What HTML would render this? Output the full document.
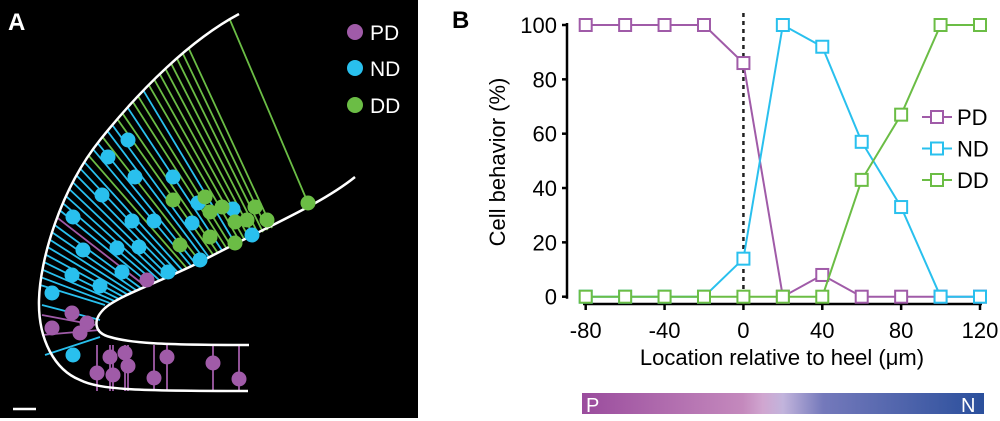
<!DOCTYPE html>
<html><head><meta charset="utf-8"><style>
html,body{margin:0;padding:0;background:#fff;}
svg{display:block;font-family:"Liberation Sans",Arial,sans-serif;}
</style></head><body>
<svg id="fig" width="1000" height="421" viewBox="0 0 1000 421" xmlns="http://www.w3.org/2000/svg">
<defs>
<linearGradient id="pn" x1="0" x2="1" y1="0" y2="0">
<stop offset="0" stop-color="#9a4c9d"/><stop offset="0.4" stop-color="#c489bd"/><stop offset="0.45" stop-color="#d0a6d0"/>
<stop offset="0.5" stop-color="#c2b4dc"/><stop offset="0.6" stop-color="#7479bb"/><stop offset="1" stop-color="#2a4f9c"/>
</linearGradient>
</defs>
<g id="panelA">
<rect x="0" y="0" width="418" height="418" fill="#000"/>
<text x="8" y="30" font-size="24" font-weight="bold" fill="#fff">A</text>
<g id="aLines"></g>
<path id="outerPath" d="M239,14 C190,40 140,90 100,140 C60,190 40,260 39,300 C38,340 55,370 80,380 C100,390 140,391 248,391" fill="none" stroke="#fff" stroke-width="2.5"/>
<path d="M355,177 C320,205 270,225 200,262 C160,282 120,295 105,308 C92,320 94,333 110,337 C130,343 160,345 249,345" fill="none" stroke="#fff" stroke-width="2.5"/>
<g id="aCells"></g>
<circle cx="355" cy="32" r="8" fill="#a05ba8"/>
<text x="370" y="40" font-size="21" fill="#fff">PD</text>
<circle cx="355" cy="68" r="8" fill="#29c0ee"/>
<text x="370" y="76" font-size="21" fill="#fff">ND</text>
<circle cx="355" cy="105" r="8" fill="#6bbd45"/>
<text x="370" y="113" font-size="21" fill="#fff">DD</text>
<line x1="13" y1="409" x2="36" y2="409" stroke="#fff" stroke-width="2.5"/>
</g>
<g id="panelB">
<text x="452" y="28" font-size="24" font-weight="bold" fill="#000">B</text>
<g id="axes"></g>
<g id="series"></g>
<text x="0" y="0" font-size="22" text-anchor="middle" transform="translate(505,162) rotate(-90)">Cell behavior (%)</text>
<text x="782" y="365" font-size="22" text-anchor="middle">Location relative to heel (μm)</text>
<rect x="582" y="393" width="402" height="21" fill="url(#pn)"/>
<text x="586" y="412" font-size="20" fill="#fff">P</text>
<text x="961" y="412" font-size="20" fill="#fff">N</text>
</g>
</svg>
<script>
const NS='http://www.w3.org/2000/svg';
const xValues=[-80,-60,-40,-20,0,20,40,60,80,100,120];
const pdValues=[100,100,100,100,86,0,8,0,0,0,0];
const ndValues=[0,0,0,0,14,100,92,57,33,0,0];
const ddValues=[0,0,0,0,0,0,0,43,67,100,100];
const xTicks=[-80,-40,0,40,80,120];
const yTicks=[0,20,40,60,80,100];
const seriesNames=['PD','ND','DD'];
const seriesColors=['#a05ba8','#29c0ee','#6bbd45'];
function X(v){return 585.7+(v+80)*(980-585.7)/200;}
function Y(v){return 296.7-v*(296.7-25)/100;}
function mk(tag,attrs,parent){const e=document.createElementNS(NS,tag);for(const k in attrs)e.setAttribute(k,attrs[k]);parent.appendChild(e);return e;}
const axes=document.getElementById('axes');
let e=mk('line',{x1:567,y1:Y(100)-2,x2:567,y2:Y(0)+2,stroke:'#000','stroke-width':2.5},axes);


yTicks.forEach(t=>{
 let l=mk('line',{x1:562,y1:Y(t),x2:567,y2:Y(t),stroke:'#000','stroke-width':2.5},axes);
 
 
 let tx=mk('text',{x:557,y:Y(t)+8,'font-size':22,'text-anchor':'end'},axes);tx.textContent=t;
 
 
});
e=mk('line',{x1:583,y1:304,x2:982,y2:304,stroke:'#000','stroke-width':2.5},axes);


xTicks.forEach(t=>{
 let l=mk('line',{x1:X(t),y1:304,x2:X(t),y2:310,stroke:'#000','stroke-width':2.5},axes);
 
 
 let tx=mk('text',{x:X(t),y:338,'font-size':22,'text-anchor':'middle'},axes);tx.textContent=t;
 
 
});
e=mk('line',{x1:X(0),y1:13,x2:X(0),y2:304,stroke:'#222','stroke-width':2.5,'stroke-dasharray':'4,4'},axes);


const series=document.getElementById('series');
const allVals=[pdValues,ndValues,ddValues];
allVals.forEach((vals,si)=>{
 const g=mk('g',{},series);
 
 
 const p=mk('polyline',{points:vals.map((v,i)=>X(xValues[i])+','+Y(v)).join(' '),fill:'none',stroke:seriesColors[si],'stroke-width':2},g);
 
 
 vals.forEach((v,i)=>{
  const r=mk('rect',{x:X(xValues[i])-6,y:Y(v)-6,width:12,height:12,fill:'#fff',stroke:seriesColors[si],'stroke-width':2},g);
  
  
 });
 const ly=117+si*31.5;
 const lg=mk('g',{},series);
 
 
 mk('line',{x1:922,y1:ly,x2:952,y2:ly,stroke:seriesColors[si],'stroke-width':2},lg);
 mk('rect',{x:931,y:ly-6,width:12,height:12,fill:'#fff',stroke:seriesColors[si],'stroke-width':2},lg);
 const t=mk('text',{x:957,y:ly+8,'font-size':22},lg);t.textContent=seriesNames[si];
});
// Panel A decorative illustration
const aL=document.getElementById('aLines');
const P='#a05ba8',C='#29c0ee',G='#6bbd45';
const lineCols=[C,C,C,C,C,C,C,C,C,P,C,C,C,C,C,C,C,C,G,C,C,G,C,C,G,G,C,G,G,C,G,G,G,G,G,G,G,G];
const n=lineCols.length;
const op=document.getElementById('outerPath');
const tot=op.getTotalLength();
let Ls=null,Le=null;
for(let L=0;L<tot;L+=0.5){const pt=op.getPointAtLength(L);if(Ls===null&&pt.y>=48)Ls=L;if(Le===null&&pt.y>=285)Le=L;}
lineCols.forEach((col,i)=>{
 const t=i/(n-1);
 const sp=op.getPointAtLength(Le-(Le-Ls)*t);
 const ex=105+t*(272-105), ey=305-t*(305-228);
 const l=mk('line',{x1:sp.x,y1:sp.y,x2:ex,y2:ey,stroke:col,'stroke-width':1.8},aL);
 
 
});
[[230,20,308,203,G],[42,305,100,320,C],[42,315,95,325,P],[42,335,100,330,P],[45,355,100,337,C]].forEach(d=>{
 const l=mk('line',{x1:d[0],y1:d[1],x2:d[2],y2:d[3],stroke:d[4],'stroke-width':1.8},aL);
 
 
});
[[110,357],[125,353],[128,366],[154,378],[167,357],[213,363],[239,379],[97,373],[113,375]].forEach(d=>{
 const l=mk('line',{x1:d[0],y1:345,x2:d[0],y2:391,stroke:P,'stroke-width':1.8},aL);
 
 
});
const aC=document.getElementById('aCells');
const cells=[
[128,140,C],[108,157,C],[135,177,C],[173,177,C],[102,195,C],[73,217,C],[132,221,C],[154,221,C],[192,223,C],[198,203,C],[233,209,C],[83,250,C],[117,248,C],[139,247,C],[252,235,C],[72,275,C],[122,272,C],[168,272,C],[200,260,C],[100,286,C],[52,293,C],[73,355,C],
[173,200,G],[205,197,G],[222,207,G],[210,212,G],[255,207,G],[267,220,G],[247,220,G],[235,222,G],[210,237,G],[180,245,G],[235,243,G],[308,203,G],
[147,280,P],[72,313,P],[52,328,P],[87,323,P],[80,333,P],[110,357,P],[125,353,P],[128,366,P],[97,373,P],[113,375,P],[154,378,P],[167,357,P],[213,363,P],[239,379,P]];
cells.forEach(c=>{
 const ci=mk('circle',{cx:c[0],cy:c[1],r:7.5,fill:c[2]},aC);
 
 
});
</script>
</body></html>
